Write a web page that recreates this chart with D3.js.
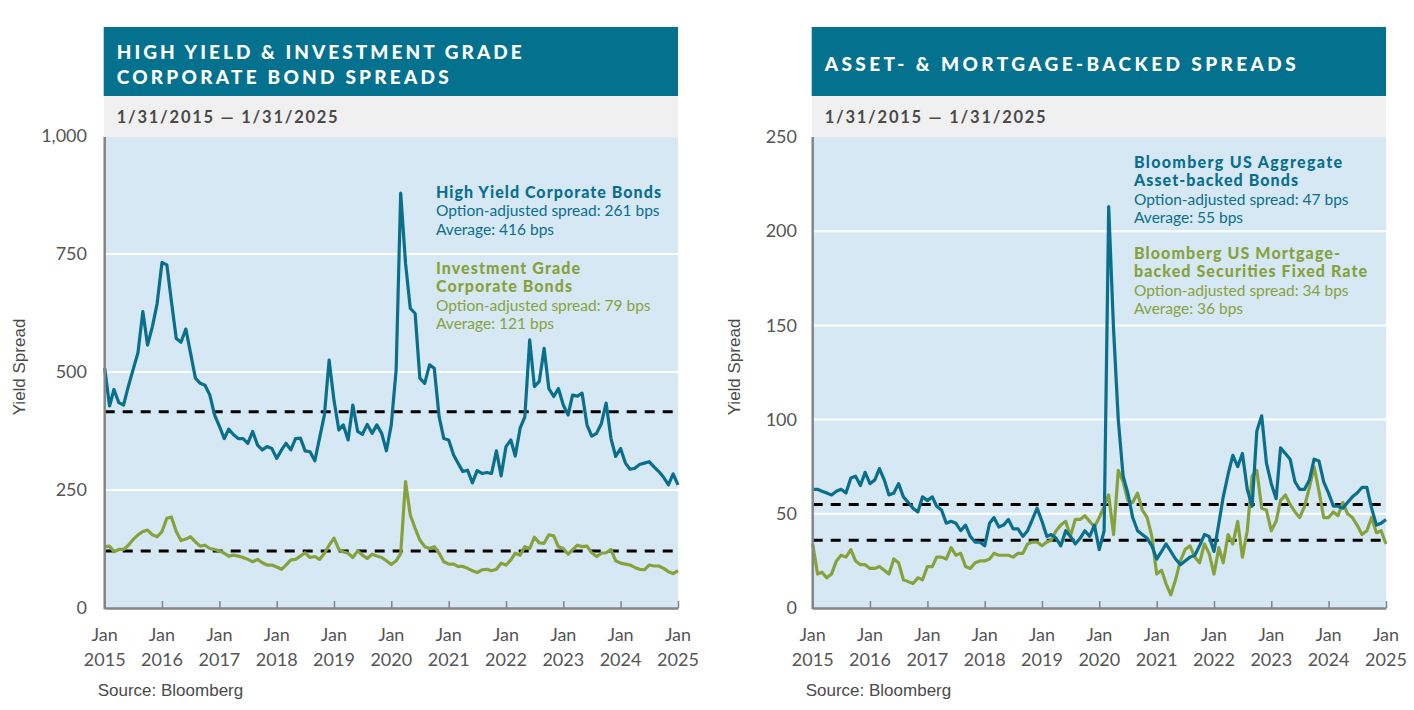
<!DOCTYPE html>
<html><head><meta charset="utf-8">
<script src="https://cdn.jsdelivr.net/npm/d3@7"></script>
<style>
body{margin:0;background:#fff}
svg{display:block}
</style>
</head><body>
<svg id="c" width="1414" height="710"></svg>
<script>
// ---------- DATA ----------
const yearLabels = ["2015","2016","2017","2018","2019","2020","2021","2022","2023","2024","2025"];
const monthLabel = "Jan";

// High Yield corporate OAS (bps), monthly Jan 2015 - Jan 2025
const hyValues = [508,428,463,435,430,470,505,541,628,557,596,645,
  732,727,650,571,563,591,540,487,476,472,451,409,
  385,359,379,367,359,359,349,374,345,335,342,338,
  317,335,349,335,359,360,333,331,312,360,409,525,
  440,377,388,356,430,374,368,389,370,388,370,333,
  388,504,879,730,635,624,487,476,515,508,405,359,
  356,324,307,289,292,265,291,285,287,285,333,280,
  342,356,322,381,405,568,469,480,550,465,448,465,
  430,409,451,449,455,388,364,370,391,434,359,321,
  338,307,294,296,304,307,310,299,289,277,261,284,261];
// Investment Grade corporate OAS (bps)
const igValues = [130,131,119,124,124,133,145,155,162,165,155,151,
  162,190,193,162,143,146,151,140,131,133,126,124,
  121,116,110,112,110,107,103,98,103,96,91,91,
  87,82,91,102,103,110,117,107,109,103,116,133,
  148,124,119,116,107,121,112,105,114,110,107,100,
  92,100,115,268,197,169,144,130,126,130,116,98,
  93,93,88,88,84,79,75,81,82,79,82,95,
  91,102,116,112,130,126,150,138,137,155,153,130,
  126,114,123,133,130,131,117,109,116,117,124,100,
  95,93,91,86,82,81,91,89,89,84,77,73,79];
// Bloomberg US Aggregate Asset-backed OAS (bps)
const absValues = [63,63,62,61,60,62,63,61,69,70,65,72,
  66,68,74,68,60,61,66,59,56,53,51,59,
  57,59,54,52,45,46,45,41,44,38,35,35,
  33,45,48,43,44,47,42,42,38,41,47,53,
  46,38,39,37,33,41,38,34,37,41,38,44,
  31,41,213,148,100,70,61,48,41,39,37,33,
  26,30,34,30,26,23,25,27,28,33,39,38,
  30,45,59,71,81,75,82,63,54,94,102,77,
  66,58,85,82,79,67,63,63,68,79,78,67,
  61,54,54,53,56,59,61,64,64,53,44,45,47];
// Bloomberg US MBS Fixed Rate OAS (bps)
const mbsValues = [34,18,19,16,18,25,28,27,31,25,23,23,
  21,21,22,20,18,26,24,15,14,13,16,15,
  22,22,27,27,26,32,28,29,22,21,24,25,
  25,26,29,28,28,28,27,29,29,34,35,35,
  33,35,36,41,44,46,38,47,47,49,46,43,
  48,54,60,39,73,67,57,56,61,52,48,38,
  18,20,13,7,15,25,31,33,27,24,34,29,
  18,32,24,39,34,46,27,41,70,73,53,52,
  41,46,57,60,55,51,48,54,64,75,62,48,
  48,51,49,56,50,48,44,39,41,48,40,41,34];

const hyAvg = 416, igAvg = 121, absAvg = 55, mbsAvg = 36;
const leftTicks = [0,250,500,750,1000];
const rightTicks = [0,50,100,150,200,250];

const titleLeft = ["HIGH YIELD & INVESTMENT GRADE","CORPORATE BOND SPREADS"];
const titleRight = ["ASSET- & MORTGAGE-BACKED SPREADS"];
const dateRange = "1/31/2015 \u2014 1/31/2025";
const sourceText = "Source: Bloomberg";
const yTitle = "Yield Spread";

const notesLeft = [
  {lines:["High Yield Corporate Bonds"], sub:["Option-adjusted spread: 261 bps","Average: 416 bps"], color:"teal"},
  {lines:["Investment Grade","Corporate Bonds"], sub:["Option-adjusted spread: 79 bps","Average: 121 bps"], color:"green"}
];
const notesRight = [
  {lines:["Bloomberg US Aggregate","Asset-backed Bonds"], sub:["Option-adjusted spread: 47 bps","Average: 55 bps"], color:"teal"},
  {lines:["Bloomberg US Mortgage-","backed Securities Fixed Rate"], sub:["Option-adjusted spread: 34 bps","Average: 36 bps"], color:"green"}
];

// ---------- STYLE ----------
const C = {teal:"#0a6f8c", green:"#87a23d", header:"#04718f", band:"#f0f0f0", plot:"#d6e8f4",
  axis:"#858585", label:"#555", dark:"#4a4a4a"};
const FUT = "Lato, 'Open Sans', sans-serif";
const ARI = "'Liberation Sans', Arial, sans-serif";

const svg = d3.select("#c");
const start = new Date(2015,0,1), end = new Date(2025,0,1);
const dateAt = i => d3.timeMonth.offset(start, i);
const tickDates = yearLabels.map(y => new Date(+y,0,1));

function panel(o){
  const g = svg.append("g");
  const top = 137, bottom = 608;
  const x = d3.scaleTime().domain([start,end]).range([o.x0,o.x1]);
  const y = d3.scaleLinear().domain([0,o.yMax]).range([bottom, o.yTop]);

  // header
  g.append("rect").attr("x",o.x0-1).attr("y",27).attr("width",o.x1-o.x0+1).attr("height",69).attr("fill",C.header);
  g.append("rect").attr("x",o.x0-1).attr("y",96).attr("width",o.x1-o.x0+1).attr("height",41).attr("fill",C.band);
  o.title.forEach((t,i)=>{
    g.append("text").attr("x",o.x0+12).attr("y",o.titleY[i]).text(t)
      .attr("fill","#fff").attr("font-family",FUT).attr("font-weight",900).attr("font-size",19)
      .attr("textLength",o.titleW[i]).attr("lengthAdjust","spacing");
  });
  g.append("text").attr("x",o.x0+12).attr("y",123).text(dateRange)
    .attr("fill",C.dark).attr("font-family",FUT).attr("font-weight","bold").attr("font-size",16.5)
    .attr("textLength",221).attr("lengthAdjust","spacing");

  // plot bg
  g.append("rect").attr("x",o.x0).attr("y",top).attr("width",o.x1-o.x0).attr("height",bottom-top).attr("fill",C.plot);
  // grid
  g.selectAll(".grid").data(o.ticks.filter(v=>v>0 && v<o.yMax)).join("line")
    .attr("x1",o.x0).attr("x2",o.x1).attr("y1",d=>y(d)).attr("y2",d=>y(d))
    .attr("stroke","#fff").attr("stroke-width",2);

  // y axis labels
  const ya = d3.axisLeft(y).tickValues(o.ticks).tickSize(0).tickPadding(o.x0 - o.labelX).tickFormat(d3.format(","));
  const yg = g.append("g").attr("transform",`translate(${o.x0},0)`).call(ya);
  yg.select(".domain").remove();
  yg.selectAll("text").attr("fill",C.label).attr("font-family",FUT).attr("font-size",18);

  // y title
  g.append("text").attr("transform",`translate(${o.x0-o.yTitleOff},367) rotate(-90)`)
    .attr("text-anchor","middle").text(yTitle)
    .attr("fill",C.dark).attr("font-family",ARI).attr("font-size",17);

  // averages
  o.avgs.forEach(a=>{
    g.append("line").attr("x1",o.x0).attr("x2",o.x1-4).attr("y1",y(a)).attr("y2",y(a))
      .attr("stroke","#000").attr("stroke-width",3).attr("stroke-dasharray","10,8");
  });

  // series
  const line = d3.line().x((d,i)=>x(dateAt(i))).y(d=>y(d));
  o.series.forEach(s=>{
    g.append("path").datum(s.values).attr("d",line).attr("fill","none")
      .attr("stroke",C[s.color]).attr("stroke-width",3.2).attr("stroke-linejoin","round");
  });

  // x axis
  const xa = d3.axisBottom(x).tickValues(tickDates).tickSizeInner(-7).tickSizeOuter(0).tickFormat("");
  const xg = g.append("g").attr("transform",`translate(0,${bottom})`).call(xa);
  xg.select(".domain").attr("stroke",C.axis).attr("stroke-width",2.5);
  xg.selectAll(".tick line").attr("stroke",C.axis).attr("stroke-width",1.5);
  // y axis line
  g.append("line").attr("x1",o.x0).attr("x2",o.x0).attr("y1",top).attr("y2",bottom+1.2)
    .attr("stroke",C.axis).attr("stroke-width",2.5);

  const lbl = g.selectAll(".xl").data(tickDates).join("text")
    .attr("x",d=>x(d)).attr("text-anchor","middle")
    .attr("fill",C.label).attr("font-family",FUT).attr("font-size",18);
  lbl.append("tspan").attr("x",d=>x(d)).attr("y",641).text(monthLabel);
  lbl.append("tspan").attr("x",d=>x(d)).attr("y",666).text((d,i)=>yearLabels[i]);

  // source
  g.append("text").attr("x",o.x0-7).attr("y",696).text(sourceText)
    .attr("fill",C.dark).attr("font-family",ARI).attr("font-size",17);

  // annotations
  o.notes.forEach((n,k)=>{
    let yy = o.noteStarts[k];
    n.lines.forEach((t,j)=>{
      g.append("text").attr("x",o.noteX).attr("y",yy).text(t)
        .attr("fill",C[n.color]).attr("font-family",FUT).attr("font-weight",900).attr("font-size",16)
        .attr("textLength",o.noteW[k][j]).attr("lengthAdjust","spacing");
      yy += 18.4;
    });
    n.sub.forEach(t=>{
      g.append("text").attr("x",o.noteX).attr("y",yy).text(t)
        .attr("fill",C[n.color]).attr("font-family",FUT).attr("font-size",15.5);
      yy += 18.4;
    });
  });
}

panel({x0:104.7, x1:678, yMax:1000, yTop:136, ticks:leftTicks, labelX:87, yTitleOff:80,
  title:titleLeft, titleY:[59,84], titleW:[405,332],
  avgs:[hyAvg, igAvg],
  series:[{values:igValues,color:"green"},{values:hyValues,color:"teal"}],
  notes:notesLeft, noteX:436, noteStarts:[198,274], noteW:[[225],[144,136]]});

panel({x0:812.7, x1:1386, yMax:250, yTop:137, ticks:rightTicks, labelX:797, yTitleOff:73,
  title:titleRight, titleY:[71], titleW:[471],
  avgs:[absAvg, mbsAvg],
  series:[{values:mbsValues,color:"green"},{values:absValues,color:"teal"}],
  notes:notesRight, noteX:1134, noteStarts:[168,259], noteW:[[208,164],[206,233]]});
</script>
</body></html>
